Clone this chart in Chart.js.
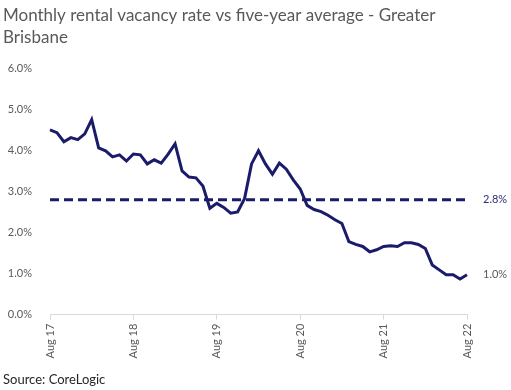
<!DOCTYPE html>
<html>
<head>
<meta charset="utf-8">
<script src="https://cdn.jsdelivr.net/npm/chart.js@4.4.1/dist/chart.umd.min.js"></script>
<style>
html, body { margin: 0; padding: 0; background: #fff; }
#wrap { position: relative; width: 511px; height: 390px; }
</style>
</head>
<body>
<div id="wrap"><canvas id="vacancyChart"></canvas></div>
<script>
const monthLabels = [
    "Aug 17", "Sep 17", "Oct 17", "Nov 17", "Dec 17", "Jan 18", "Feb 18", "Mar 18", "Apr 18", "May 18", "Jun 18", "Jul 18",
    "Aug 18", "Sep 18", "Oct 18", "Nov 18", "Dec 18", "Jan 19", "Feb 19", "Mar 19", "Apr 19", "May 19", "Jun 19", "Jul 19",
    "Aug 19", "Sep 19", "Oct 19", "Nov 19", "Dec 19", "Jan 20", "Feb 20", "Mar 20", "Apr 20", "May 20", "Jun 20", "Jul 20",
    "Aug 20", "Sep 20", "Oct 20", "Nov 20", "Dec 20", "Jan 21", "Feb 21", "Mar 21", "Apr 21", "May 21", "Jun 21", "Jul 21",
    "Aug 21", "Sep 21", "Oct 21", "Nov 21", "Dec 21", "Jan 22", "Feb 22", "Mar 22", "Apr 22", "May 22", "Jun 22", "Jul 22",
    "Aug 22"
];

const vacancyRate = [
    4.50, 4.43, 4.21, 4.31, 4.26, 4.40, 4.75, 4.06, 3.99, 3.84, 3.89, 3.74,
    3.91, 3.89, 3.67, 3.77, 3.69, 3.91, 4.16, 3.50, 3.35, 3.33, 3.13, 2.59,
    2.71, 2.61, 2.47, 2.50, 2.83, 3.67, 3.99, 3.67, 3.42, 3.69, 3.54, 3.28,
    3.06, 2.66, 2.56, 2.51, 2.42, 2.31, 2.22, 1.78, 1.71, 1.66, 1.53, 1.58,
    1.66, 1.68, 1.66, 1.75, 1.75, 1.71, 1.61, 1.21, 1.09, 0.97, 0.97, 0.87,
    0.97
];

const fiveYearAverage = 2.8;
const latestLabelValue = 1.0;
const yTickValues = [0, 1, 2, 3, 4, 5, 6];

const navy = "#1b1b6b";
const grey = "#595959";
const FONT = "Lato";

const endLabels = {
    id: "endLabels",
    afterDatasetsDraw(chart) {
        const { ctx, chartArea, scales } = chart;
        ctx.save();
        ctx.font = "11px " + FONT;
        ctx.textBaseline = "middle";
        ctx.textAlign = "left";
        ctx.fillStyle = "#2e2e7a";
        ctx.fillText(fiveYearAverage.toFixed(1) + "%", chartArea.right + 16, scales.y.getPixelForValue(fiveYearAverage));
        ctx.fillStyle = grey;
        ctx.fillText(latestLabelValue.toFixed(1) + "%", chartArea.right + 16, scales.y.getPixelForValue(vacancyRate[vacancyRate.length - 1]));
        ctx.restore();
    }
};

new Chart(document.getElementById("vacancyChart"), {
    type: "line",
    data: {
        labels: monthLabels,
        datasets: [
            {
                label: "Vacancy rate",
                data: vacancyRate,
                borderColor: navy,
                borderWidth: 3,
                pointRadius: 0,
                tension: 0,
                fill: false
            },
            {
                label: "Five-year average",
                data: [
                    { x: monthLabels[0], y: fiveYearAverage },
                    { x: monthLabels[monthLabels.length - 1], y: fiveYearAverage }
                ],
                borderColor: navy,
                borderWidth: 3,
                borderDash: [9, 5],
                pointRadius: 0,
                fill: false
            }
        ]
    },
    options: {
        responsive: true,
        maintainAspectRatio: false,
        animation: false,
        layout: {
            padding: { left: 3, right: 44, top: 2, bottom: 0 }
        },
        plugins: {
            legend: { display: false },
            tooltip: { enabled: false },
            title: {
                display: true,
                text: ["Monthly rental vacancy rate vs five-year average - Greater", "Brisbane"],
                align: "start",
                color: grey,
                font: { family: FONT, size: 17, weight: "normal", lineHeight: 1.3 },
                padding: { top: 2, bottom: 20 }
            },
            subtitle: {
                display: true,
                position: "bottom",
                text: "Source: CoreLogic",
                align: "start",
                color: "#262626",
                font: { family: FONT, size: 13, weight: "normal" },
                padding: { top: 10, bottom: 2 }
            }
        },
        scales: {
            x: {
                offset: false,
                grid: {
                    drawOnChartArea: false,
                    tickLength: 5,
                    color: (c) => (c.tick && c.tick.label ? "#d9d9d9" : "rgba(0,0,0,0)")
                },
                border: { display: true, color: "#d9d9d9" },
                ticks: {
                    autoSkip: false,
                    minRotation: 90,
                    maxRotation: 90,
                    padding: 4,
                    color: grey,
                    font: { family: FONT, size: 11 },
                    callback: function (value, index) {
                        const lbl = monthLabels[index];
                        return lbl.startsWith("Aug") ? lbl : "";
                    }
                }
            },
            y: {
                min: yTickValues[0],
                max: yTickValues[yTickValues.length - 1],
                afterFit: (scale) => { scale.width = 47; },
                afterBuildTicks: (scale) => { scale.ticks = yTickValues.map((v) => ({ value: v })); },
                grid: { display: false },
                border: { display: false },
                ticks: {
                    padding: 10,
                    color: grey,
                    font: { family: FONT, size: 11 },
                    callback: (v) => v.toFixed(1) + "%"
                }
            }
        }
    },
    plugins: [endLabels]
});
</script>
</body>
</html>
